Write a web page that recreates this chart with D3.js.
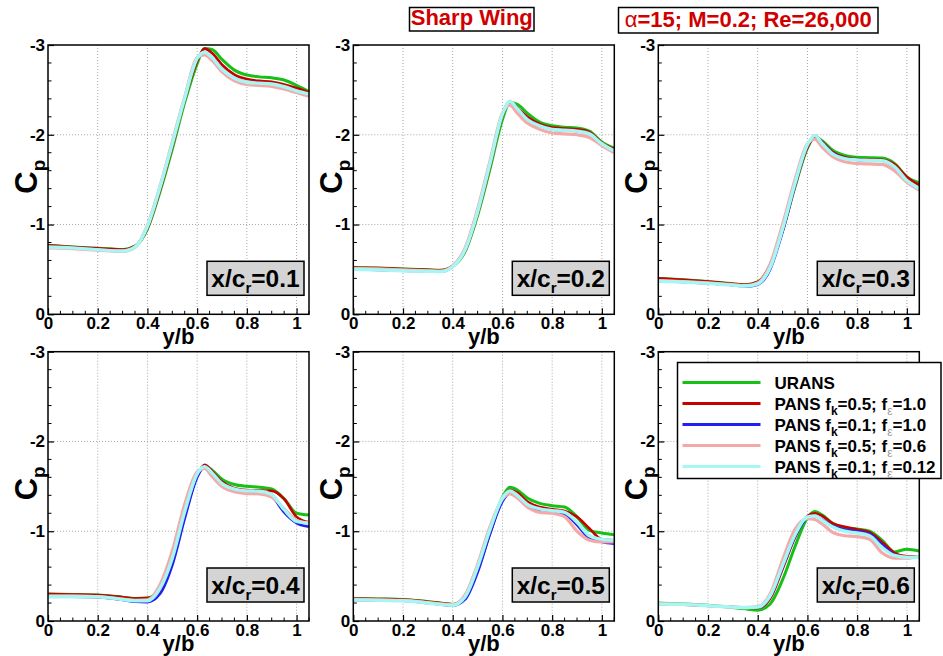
<!DOCTYPE html>
<html>
<head>
<meta charset="utf-8">
<script src="https://cdn.jsdelivr.net/npm/d3@7"></script>
<style>
  body { margin: 0; background: #fff; }
  svg { display: block; font-family: "Liberation Sans", Arial, Helvetica, sans-serif; font-weight: bold; }
</style>
</head>
<body>
<svg id="fig" width="943" height="656"></svg>
<script>
// Spanwise stations y/b shared by every Cp distribution
const spanY = [0, 0.1, 0.2, 0.3, 0.35, 0.4, 0.45, 0.5, 0.55, 0.6, 0.63, 0.66, 0.7, 0.75, 0.8, 0.85, 0.9, 0.95, 1.0, 1.05];

// Chordwise stations x/c_r, one panel each
const stations = ["0.1", "0.2", "0.3", "0.4", "0.5", "0.6"];

// URANS
const uransCp = [
  [-0.77,-0.75,-0.735,-0.72,-0.76,-0.95,-1.36,-1.84,-2.36,-2.79,-2.96,-2.95,-2.84,-2.72,-2.665,-2.645,-2.635,-2.61,-2.55,-2.48],
  [-0.52,-0.515,-0.505,-0.495,-0.49,-0.535,-0.70,-1.10,-1.62,-2.17,-2.36,-2.34,-2.24,-2.14,-2.10,-2.085,-2.075,-2.04,-1.92,-1.85],
  [-0.40,-0.385,-0.365,-0.34,-0.33,-0.36,-0.55,-0.93,-1.42,-1.85,-1.98,-1.93,-1.83,-1.77,-1.75,-1.745,-1.74,-1.68,-1.53,-1.465],
  [-0.30,-0.295,-0.29,-0.265,-0.25,-0.255,-0.36,-0.67,-1.18,-1.62,-1.73,-1.68,-1.58,-1.52,-1.50,-1.49,-1.47,-1.36,-1.20,-1.18],
  [-0.25,-0.245,-0.24,-0.215,-0.20,-0.185,-0.27,-0.57,-0.98,-1.38,-1.49,-1.46,-1.37,-1.31,-1.285,-1.27,-1.16,-1.01,-0.98,-0.96],
  [-0.20,-0.19,-0.175,-0.15,-0.135,-0.12,-0.19,-0.46,-0.83,-1.15,-1.22,-1.18,-1.09,-1.04,-1.025,-1.00,-0.90,-0.77,-0.80,-0.78]
];
// PANS fk=0.5, fe=1.0
const pansK05E10Cp = [
  [-0.77,-0.75,-0.735,-0.72,-0.76,-0.96,-1.38,-1.87,-2.39,-2.82,-2.96,-2.91,-2.78,-2.67,-2.62,-2.60,-2.59,-2.56,-2.52,-2.47],
  [-0.52,-0.515,-0.505,-0.495,-0.49,-0.54,-0.71,-1.12,-1.65,-2.21,-2.37,-2.30,-2.20,-2.12,-2.08,-2.07,-2.06,-2.03,-1.91,-1.84],
  [-0.40,-0.385,-0.365,-0.34,-0.33,-0.36,-0.55,-0.93,-1.43,-1.86,-1.97,-1.92,-1.81,-1.75,-1.73,-1.725,-1.72,-1.67,-1.53,-1.44],
  [-0.30,-0.295,-0.29,-0.265,-0.25,-0.255,-0.34,-0.66,-1.17,-1.62,-1.74,-1.67,-1.55,-1.48,-1.46,-1.455,-1.45,-1.36,-1.16,-1.10],
  [-0.25,-0.245,-0.24,-0.215,-0.20,-0.185,-0.26,-0.57,-0.98,-1.36,-1.46,-1.43,-1.33,-1.27,-1.245,-1.225,-1.16,-1.03,-0.91,-0.90],
  [-0.19,-0.185,-0.17,-0.155,-0.15,-0.145,-0.25,-0.58,-0.93,-1.17,-1.20,-1.17,-1.09,-1.05,-1.02,-0.99,-0.88,-0.76,-0.72,-0.72]
];
// PANS fk=0.1, fe=1.0
const pansK01E10Cp = [
  [-0.75,-0.74,-0.72,-0.705,-0.75,-0.98,-1.41,-1.90,-2.41,-2.85,-2.92,-2.86,-2.73,-2.63,-2.585,-2.575,-2.565,-2.535,-2.49,-2.45],
  [-0.50,-0.495,-0.485,-0.48,-0.475,-0.53,-0.72,-1.14,-1.68,-2.23,-2.37,-2.29,-2.17,-2.10,-2.06,-2.05,-2.04,-2.01,-1.90,-1.82],
  [-0.37,-0.36,-0.345,-0.325,-0.31,-0.33,-0.50,-0.92,-1.44,-1.88,-1.99,-1.91,-1.80,-1.74,-1.72,-1.715,-1.71,-1.64,-1.49,-1.385],
  [-0.27,-0.27,-0.265,-0.235,-0.215,-0.21,-0.30,-0.62,-1.14,-1.60,-1.72,-1.65,-1.53,-1.46,-1.44,-1.44,-1.39,-1.21,-1.09,-1.05],
  [-0.235,-0.23,-0.225,-0.20,-0.185,-0.17,-0.24,-0.54,-0.97,-1.33,-1.42,-1.38,-1.28,-1.23,-1.21,-1.19,-1.07,-0.92,-0.88,-0.86],
  [-0.19,-0.185,-0.17,-0.155,-0.15,-0.15,-0.27,-0.60,-0.94,-1.15,-1.17,-1.13,-1.06,-1.02,-1.00,-0.97,-0.85,-0.74,-0.71,-0.71]
];
// PANS fk=0.5, fe=0.6
const pansK05E06Cp = [
  [-0.74,-0.73,-0.715,-0.70,-0.745,-0.99,-1.42,-1.92,-2.42,-2.86,-2.89,-2.83,-2.70,-2.60,-2.56,-2.55,-2.54,-2.51,-2.47,-2.43],
  [-0.51,-0.505,-0.495,-0.485,-0.48,-0.54,-0.74,-1.17,-1.71,-2.24,-2.33,-2.24,-2.13,-2.06,-2.02,-2.01,-2.00,-1.97,-1.88,-1.80],
  [-0.375,-0.365,-0.35,-0.33,-0.32,-0.35,-0.56,-1.00,-1.50,-1.90,-1.95,-1.86,-1.76,-1.70,-1.68,-1.675,-1.67,-1.60,-1.47,-1.385],
  [-0.28,-0.28,-0.27,-0.245,-0.23,-0.235,-0.40,-0.78,-1.30,-1.66,-1.70,-1.61,-1.50,-1.44,-1.42,-1.415,-1.38,-1.25,-1.12,-1.09],
  [-0.24,-0.235,-0.23,-0.205,-0.19,-0.18,-0.29,-0.63,-1.05,-1.36,-1.42,-1.37,-1.27,-1.21,-1.20,-1.16,-1.00,-0.90,-0.88,-0.88],
  [-0.19,-0.185,-0.17,-0.155,-0.15,-0.16,-0.30,-0.68,-1.02,-1.14,-1.13,-1.08,-0.99,-0.95,-0.94,-0.91,-0.76,-0.70,-0.70,-0.72]
];
// PANS fk=0.1, fe=0.12
const pansK01E012Cp = [
  [-0.75,-0.74,-0.72,-0.705,-0.75,-0.98,-1.41,-1.90,-2.41,-2.85,-2.92,-2.86,-2.73,-2.63,-2.585,-2.575,-2.565,-2.535,-2.49,-2.455],
  [-0.50,-0.495,-0.485,-0.48,-0.475,-0.53,-0.72,-1.14,-1.68,-2.23,-2.37,-2.29,-2.17,-2.10,-2.06,-2.05,-2.04,-2.01,-1.90,-1.82],
  [-0.37,-0.36,-0.345,-0.325,-0.315,-0.34,-0.52,-0.95,-1.46,-1.89,-1.99,-1.90,-1.79,-1.735,-1.72,-1.715,-1.71,-1.645,-1.49,-1.40],
  [-0.27,-0.27,-0.27,-0.24,-0.225,-0.225,-0.36,-0.70,-1.22,-1.64,-1.72,-1.65,-1.53,-1.47,-1.45,-1.445,-1.41,-1.24,-1.11,-1.09],
  [-0.235,-0.23,-0.225,-0.20,-0.185,-0.175,-0.27,-0.60,-1.02,-1.37,-1.45,-1.40,-1.30,-1.25,-1.23,-1.21,-1.10,-0.95,-0.91,-0.90],
  [-0.19,-0.185,-0.17,-0.155,-0.15,-0.155,-0.28,-0.62,-0.96,-1.16,-1.17,-1.12,-1.05,-1.00,-0.98,-0.95,-0.82,-0.73,-0.71,-0.71]
];

const seriesData = [uransCp, pansK05E10Cp, pansK01E10Cp, pansK05E06Cp, pansK01E012Cp];
const seriesColors = ["#16c116", "#c80000", "#2020f0", "#f5a8a8", "#a6f6f4"];
const seriesWidths = [3, 2.6, 2.6, 3.2, 3.4];
// legend: model name, fk, f-epsilon
const legendModel = ["URANS", "PANS", "PANS", "PANS", "PANS"];
const legendFk = [null, "0.5", "0.1", "0.5", "0.1"];
const legendFe = [null, "1.0", "1.0", "0.6", "0.12"];

const xTicks = [0, 0.2, 0.4, 0.6, 0.8, 1];
const xTickLabels = ["0", "0.2", "0.4", "0.6", "0.8", "1"];
const yTicks = [0, -1, -2, -3];
const yTickLabels = ["0", "-1", "-2", "-3"];

const svg = d3.select("#fig");
const plotW = 261, plotH = 269.3;
const colLeft = [48, 353.3, 658.3];
const rowTop = [45, 351.7];

const x = d3.scaleLinear().domain([0, 1.05]).range([0, plotW]);
const y = d3.scaleLinear().domain([0, -3]).range([plotH, 0]);

const line = d3.line()
  .x((d, i) => x(spanY[i]))
  .y(d => y(d))
  .curve(d3.curveMonotoneX);

stations.forEach((st, k) => {
  const g = svg.append("g")
    .attr("transform", `translate(${colLeft[k % 3]},${rowTop[Math.floor(k / 3)]})`);

  // dotted grid
  g.append("g").selectAll("line").data(xTicks.filter(t => t > 0)).join("line")
    .attr("x1", d => x(d)).attr("x2", d => x(d)).attr("y1", 0).attr("y2", plotH)
    .attr("stroke", "#a8a8a8").attr("stroke-width", 1).attr("stroke-dasharray", "1,2");
  g.append("g").selectAll("line").data(yTicks.filter(t => t < 0 && t > -3)).join("line")
    .attr("y1", d => y(d)).attr("y2", d => y(d)).attr("x1", 0).attr("x2", plotW)
    .attr("stroke", "#a8a8a8").attr("stroke-width", 1).attr("stroke-dasharray", "1,2");

  // minor ticks
  const xMinor = d3.range(0, 1.051, 0.05).filter(v => Math.abs(v * 5 - Math.round(v * 5)) > 1e-6);
  const yMinor = d3.range(0, -3.001, -0.2).filter(v => Math.abs(v - Math.round(v)) > 1e-6);
  g.append("g").selectAll("line").data(xMinor).join("line")
    .attr("x1", d => x(d)).attr("x2", d => x(d)).attr("y1", plotH).attr("y2", plotH - 3.5)
    .attr("stroke", "#000").attr("stroke-width", 1);
  g.append("g").selectAll("line").data(yMinor).join("line")
    .attr("y1", d => y(d)).attr("y2", d => y(d)).attr("x1", 0).attr("x2", 3.5)
    .attr("stroke", "#000").attr("stroke-width", 1);

  // major axes with inward ticks
  const xAxis = d3.axisBottom(x).tickValues(xTicks)
    .tickFormat((d, i) => xTickLabels[i]).tickSizeInner(-6).tickSizeOuter(0).tickPadding(3);
  const gx = g.append("g").attr("transform", `translate(0,${plotH})`).call(xAxis);
  const yAxis = d3.axisLeft(y).tickValues(yTicks)
    .tickFormat((d, i) => yTickLabels[i]).tickSizeInner(-6).tickSizeOuter(0).tickPadding(3);
  const gy = g.append("g").call(yAxis);
  [gx, gy].forEach(a => {
    a.select(".domain").remove();
    a.selectAll(".tick line").attr("stroke", "#000").attr("stroke-width", 1.2);
    a.selectAll(".tick text").attr("font-size", 17).attr("font-weight", "bold")
      .attr("font-family", "Liberation Sans, Arial, sans-serif").attr("fill", "#000");
  });

  // curves
  seriesData.forEach((s, j) => {
    g.append("path").datum(s[k]).attr("d", line)
      .attr("fill", "none").attr("stroke", seriesColors[j])
      .attr("stroke-width", seriesWidths[j]).attr("stroke-linejoin", "round");
  });

  // frame
  g.append("rect").attr("width", plotW).attr("height", plotH)
    .attr("fill", "none").attr("stroke", "#000").attr("stroke-width", 1.5);

  // axis titles
  g.append("text").attr("x", plotW / 2).attr("y", plotH + 30)
    .attr("text-anchor", "middle").attr("font-size", 22).text("y/b");
  const cp = g.append("text")
    .attr("transform", `translate(-11,${plotH / 2 - 3}) rotate(-90)`)
    .attr("text-anchor", "middle").attr("font-size", 31);
  cp.append("tspan").text("C");
  cp.append("tspan").attr("font-size", 19).attr("dy", 8).text("p");

  // station label
  const bw = 97, bh = 34;
  const bx = plotW - 5 - bw, by = plotH - 19 - bh;
  g.append("rect").attr("x", bx).attr("y", by).attr("width", bw).attr("height", bh)
    .attr("fill", "#d4d4d4").attr("stroke", "#000").attr("stroke-width", 1.5);
  const lab = g.append("text").attr("x", bx + bw / 2).attr("y", by + 26)
    .attr("text-anchor", "middle").attr("font-size", 24.5);
  lab.append("tspan").text("x/c");
  lab.append("tspan").attr("font-size", 15).attr("dy", 6).text("r");
  lab.append("tspan").attr("dy", -6).text("=" + st);
});

// titles
function titleBox(x0, y0, w, h, build) {
  svg.append("rect").attr("x", x0).attr("y", y0).attr("width", w).attr("height", h)
    .attr("fill", "#fff").attr("stroke", "#000").attr("stroke-width", 1.5);
  const t = svg.append("text").attr("x", x0 + w / 2).attr("y", y0 + h - 6)
    .attr("text-anchor", "middle").attr("font-size", 22).attr("fill", "#d00000");
  build(t);
}
titleBox(409.5, 7.5, 124.5, 23.5, t => t.text("Sharp Wing"));
titleBox(618.5, 7.5, 259.5, 25.5, t => {
  t.append("tspan").attr("font-weight", "normal").text("α");
  t.append("tspan").text("=15; M=0.2; Re=26,000");
});

// legend
const lg = svg.append("g").attr("transform", "translate(677.5,362.5)");
lg.append("rect").attr("width", 263.5).attr("height", 116)
  .attr("fill", "#fff").attr("stroke", "#000").attr("stroke-width", 1.5);
seriesColors.forEach((c, j) => {
  const ly = 20 + j * 21;
  lg.append("line").attr("x1", 5).attr("x2", 83).attr("y1", ly).attr("y2", ly)
    .attr("stroke", c).attr("stroke-width", 3.2);
  const t = lg.append("text").attr("x", 97).attr("y", ly + 6).attr("font-size", 17);
  t.append("tspan").text(legendModel[j]);
  if (legendFk[j] !== null) {
    t.append("tspan").text("\u00a0f");
    t.append("tspan").attr("font-size", 12).attr("dy", 5).text("k");
    t.append("tspan").attr("dy", -5).text("=" + legendFk[j] + ";\u00a0f");
    t.append("tspan").attr("font-size", 12).attr("dy", 5).attr("font-weight", "normal")
      .attr("fill", "#9a9a9a").text("ε");
    t.append("tspan").attr("dy", -5).text("=" + legendFe[j]);
  }
});
</script>
</body>
</html>
